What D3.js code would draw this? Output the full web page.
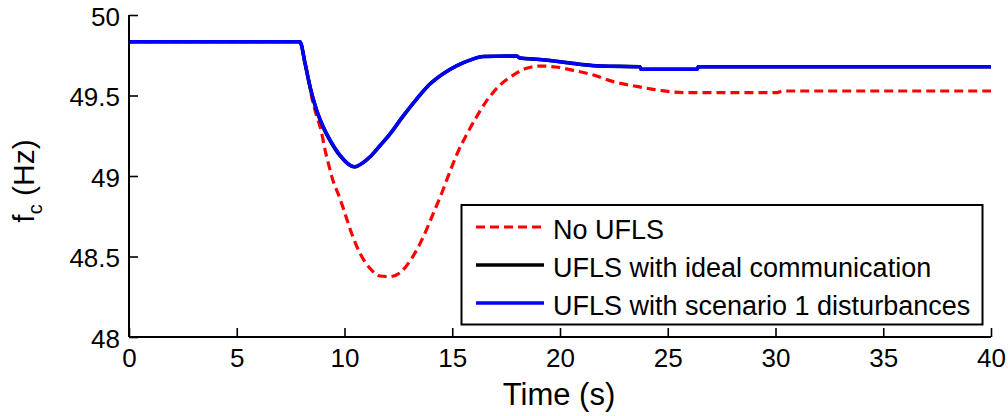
<!DOCTYPE html>
<html>
<head>
<meta charset="utf-8">
<script src="https://cdnjs.cloudflare.com/ajax/libs/d3/7.8.5/d3.min.js"></script>
<style>
  html, body { margin: 0; padding: 0; background: #fff; }
  svg { display: block; font-family: "Liberation Sans", Arial, sans-serif; }
</style>
</head>
<body>
<svg id="chart" width="1008" height="416"></svg>
<script>
// ---- data ----
const xTicks = [0, 5, 10, 15, 20, 25, 30, 35, 40];
const yTicks = [48, 48.5, 49, 49.5, 50];
const yTickLabels = ["48", "48.5", "49", "49.5", "50"];

const legendLabels = ["No UFLS", "UFLS with ideal communication", "UFLS with scenario 1 disturbances"];

const timeNoUFLS = [0, 7.93, 8.17, 8.40, 8.48, 8.63, 8.94, 9.10, 9.25, 9.41, 9.79, 10.02, 10.33, 10.72, 11.18, 11.65, 12.11, 12.58, 13.12, 13.66, 14.12, 14.51, 14.90, 15.28, 15.67, 16.13, 16.60, 17.22, 17.83, 18.45, 19.07, 19.80, 20.62, 21.55, 22.47, 23.63, 24.72, 25.88, 30.06, 30.36, 40];
const freqNoUFLS = [49.834, 49.834, 49.70, 49.555, 49.49, 49.41, 49.267, 49.16, 49.08, 48.996, 48.86, 48.768, 48.644, 48.52, 48.427, 48.379, 48.375, 48.40, 48.489, 48.623, 48.768, 48.893, 49.03, 49.155, 49.258, 49.368, 49.468, 49.565, 49.627, 49.669, 49.683, 49.677, 49.656, 49.627, 49.586, 49.555, 49.53, 49.518, 49.518, 49.528, 49.528];

const timeIdeal = [0, 7.93, 8.17, 8.40, 8.71, 9.02, 9.33, 9.79, 10.45, 10.87, 11.18, 11.65, 12.11, 12.73, 13.35, 13.97, 14.58, 15.20, 15.82, 16.44, 17.99, 18.14, 18.92, 20.0, 20.93, 21.86, 23.71, 23.76, 26.36, 26.41, 40];
const freqIdeal = [49.834, 49.834, 49.70, 49.553, 49.405, 49.300, 49.220, 49.126, 49.056, 49.083, 49.118, 49.188, 49.260, 49.373, 49.478, 49.571, 49.635, 49.684, 49.72, 49.742, 49.745, 49.733, 49.725, 49.71, 49.694, 49.683, 49.679, 49.663, 49.663, 49.679, 49.679];

const timeScen1 = [0, 7.93, 8.17, 8.40, 8.71, 9.02, 9.33, 9.79, 10.45, 10.87, 11.18, 11.65, 12.11, 12.73, 13.35, 13.97, 14.58, 15.20, 15.82, 16.44, 17.99, 18.14, 18.92, 20.0, 20.93, 21.86, 23.71, 23.76, 26.36, 26.41, 40];
const freqScen1 = [49.834, 49.834, 49.70, 49.555, 49.41, 49.306, 49.224, 49.13, 49.058, 49.085, 49.12, 49.19, 49.262, 49.375, 49.48, 49.573, 49.636, 49.685, 49.72, 49.742, 49.745, 49.733, 49.725, 49.71, 49.694, 49.683, 49.679, 49.663, 49.663, 49.679, 49.679];

// ---- layout ----
const W = 1008, H = 416;
const margin = { left: 129, top: 15, right: 17, bottom: 79 };
const iw = W - margin.left - margin.right;
const ih = H - margin.top - margin.bottom;

const svg = d3.select("#chart");
svg.append("rect").attr("width", W).attr("height", H).attr("fill", "#fff");
const g = svg.append("g").attr("transform", `translate(${margin.left},${margin.top})`);

const x = d3.scaleLinear().domain([0, 40]).range([0, iw]);
const y = d3.scaleLinear().domain([48, 50]).range([ih, 0]);

const line = d3.line().x(d => x(d[0])).y(d => y(d[1])).curve(d3.curveMonotoneX);

const series = [
  { t: timeNoUFLS, f: freqNoUFLS, color: "#ff0000", width: 3.2, dash: "9,5" },
  { t: timeIdeal, f: freqIdeal, color: "#000000", width: 3.6, dash: null },
  { t: timeScen1, f: freqScen1, color: "#0000ff", width: 3.4, dash: null }
];

series.forEach(s => {
  const pts = s.t.map((t, i) => [t, s.f[i]]);
  g.append("path")
    .attr("d", line(pts))
    .attr("fill", "none")
    .attr("stroke", s.color)
    .attr("stroke-width", s.width)
    .attr("stroke-linejoin", "round")
    .attr("stroke-dasharray", s.dash);
});

// ---- axes ----
const xAxis = d3.axisBottom(x).tickValues(xTicks).tickSize(-9).tickPadding(21).tickFormat(d3.format("d"));
const yAxis = d3.axisLeft(y).tickValues(yTicks).tickSize(-9).tickPadding(18).tickFormat((d, i) => yTickLabels[i]);

const gx = g.append("g").attr("transform", `translate(0,${ih})`).call(xAxis);
const gy = g.append("g").call(yAxis);

[gx, gy].forEach(ax => {
  ax.select(".domain").attr("stroke", "#000").attr("stroke-width", 2).attr("d",
    ax === gx ? `M0,0H${iw}` : `M0,0V${ih}`);
  ax.selectAll(".tick line").attr("stroke", "#000").attr("stroke-width", 1.6);
  ax.selectAll(".tick text").attr("fill", "#000").attr("font-size", 26)
    .attr("font-family", "'Liberation Sans', Arial, sans-serif");
});
gx.selectAll(".tick text").attr("dy", "0").attr("y", 30);
gy.selectAll(".tick text").attr("dy", "0").attr("y", 10).attr("x", -9);

// ---- axis labels ----
svg.append("text")
  .attr("x", 559).attr("y", 405)
  .attr("text-anchor", "middle")
  .attr("font-size", 31)
  .attr("fill", "#000")
  .text("Time (s)");

const yl = svg.append("text")
  .attr("transform", "translate(34,181) rotate(-90)")
  .attr("text-anchor", "middle")
  .attr("font-size", 30)
  .attr("fill", "#000");
yl.append("tspan").text("f");
yl.append("tspan").attr("font-size", 20).attr("dy", 8).text("c");
yl.append("tspan").attr("dy", -8).text(" (Hz)");

// ---- legend ----
const lg = svg.append("g");
lg.append("rect")
  .attr("x", 461.5).attr("y", 205).attr("width", 521).attr("height", 119.5)
  .attr("fill", "#fff").attr("stroke", "#000").attr("stroke-width", 2);

legendLabels.forEach((lab, i) => {
  const s = series[i];
  const by = 239 + i * 38;
  lg.append("line")
    .attr("x1", 476).attr("x2", 544)
    .attr("y1", by - 12).attr("y2", by - 12)
    .attr("stroke", s.color).attr("stroke-width", s.width)
    .attr("stroke-dasharray", s.dash);
  lg.append("text")
    .attr("x", 553).attr("y", by)
    .attr("font-size", 27)
    .attr("fill", "#000")
    .text(lab);
});
</script>
</body>
</html>
